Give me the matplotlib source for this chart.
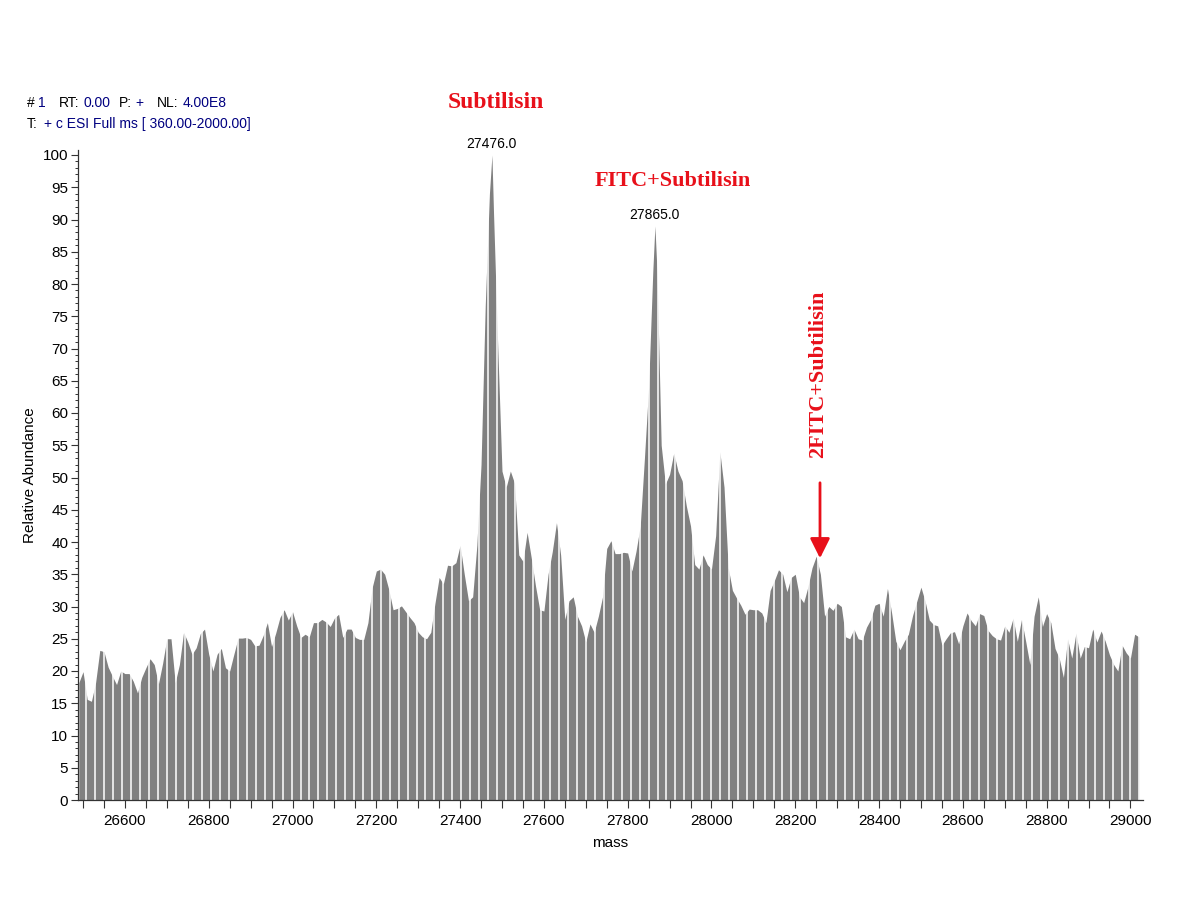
import numpy as np
import matplotlib
matplotlib.use("Agg")
import matplotlib.pyplot as plt
from matplotlib.ticker import MultipleLocator

plt.rcParams['font.family'] = ['Liberation Sans', 'DejaVu Sans']

# ---------------- data ----------------
mass_start, mass_step = 26490, 10
abundance = [
    18.2, 19.9, 15.6, 15.3, 18.2, 23.2, 23.0, 20.6, 19.2, 17.9,
    20.0, 19.6, 19.6, 18.4, 16.6, 19.0, 20.5, 21.9, 21.0, 18.0,
    21.2, 25.0, 25.0, 18.2, 21.0, 26.0, 24.5, 22.6, 23.6, 25.8,
    26.5, 22.6, 20.0, 22.6, 23.5, 20.5, 20.0, 22.6, 25.1, 25.1,
    25.2, 24.9, 23.9, 24.0, 25.5, 27.5, 23.8, 25.9, 28.3, 29.5,
    27.9, 29.2, 27.0, 25.2, 25.7, 25.3, 27.5, 27.5, 28.0, 27.6,
    26.9, 28.2, 28.8, 25.2, 26.5, 26.5, 25.2, 24.9, 24.9, 27.5,
    32.9, 35.5, 35.8, 35.0, 32.6, 29.5, 29.7, 30.1, 29.2, 28.3,
    27.5, 26.0, 25.3, 25.0, 26.0, 30.5, 34.5, 33.5, 36.4, 36.3,
    36.8, 39.5, 35.0, 30.9, 31.5, 39.5, 52.0, 76.6, 94.0, 90.6,
    70.0, 51.0, 48.5, 51.0, 49.1, 38.0, 37.0, 41.5, 37.5, 33.2,
    29.5, 29.3, 35.0, 38.5, 43.0, 38.0, 28.0, 30.9, 31.5, 28.5,
    27.0, 24.5, 27.3, 26.0, 28.5, 31.5, 39.0, 40.2, 38.2, 38.2,
    38.4, 38.3, 35.5, 38.6, 42.5, 53.0, 64.0, 82.0, 82.0, 55.0,
    49.0, 50.5, 53.8, 51.0, 49.5, 45.6, 42.5, 36.5, 35.8, 38.0,
    36.5, 35.8, 41.0, 54.0, 48.5, 36.0, 32.5, 31.3, 30.2, 28.8,
    29.6, 29.5, 29.5, 29.0, 27.5, 32.5, 34.0, 35.7, 35.0, 32.3,
    34.5, 35.0, 31.5, 30.6, 33.0, 36.0, 37.8, 35.0, 28.5, 30.0,
    29.4, 30.5, 30.0, 25.3, 25.0, 26.5, 25.0, 24.8, 26.8, 28.0,
    30.2, 30.5, 28.5, 32.8, 29.0, 24.6, 23.3, 24.6, 25.7, 28.6,
    30.8, 33.0, 30.8, 27.9, 27.2, 27.0, 24.0, 25.0, 25.9, 26.1,
    24.2, 27.0, 29.0, 27.8, 27.0, 28.9, 28.6, 26.3, 25.5, 25.0,
    24.8, 27.0, 26.0, 28.2, 24.6, 28.0, 24.6, 21.0, 28.5, 31.5,
    26.9, 28.9, 27.5, 23.5, 22.0, 19.0, 25.0, 22.0, 25.9, 22.0,
    23.8, 23.6, 26.5, 24.5, 26.2, 24.6, 22.5, 21.0, 20.0, 24.0,
    22.8, 22.0, 25.7, 25.3,
]
peak_mass = [27476.0, 27865.0]
peak_abund = [100.0, 89.0]
peak_labels = ["27476.0", "27865.0"]

header1 = [("#", "black", 27), ("1", "#000080", 38), ("RT:", "black", 59),
           ("0.00", "#000080", 83), ("P:", "black", 119), ("+", "#000080", 135),
           ("NL:", "black", 157), ("4.00E8", "#000080", 183)]
header2 = [("T:", "black", 27), ("+ c ESI Full ms [ 360.00-2000.00]", "#000080", 44)]

# ---------------- build ----------------
abundance = np.array(abundance)
mass = mass_start + mass_step * np.arange(len(abundance))
m_all = np.concatenate([mass, peak_mass])
a_all = np.concatenate([abundance, peak_abund])
order = np.argsort(m_all)
m_all, a_all = m_all[order], a_all[order]

W, H = 1200, 900
fig = plt.figure(figsize=(12, 9), dpi=100)
ax = fig.add_axes([78 / W, 1 - 800 / H, (1143 - 78) / W, 650 / H])

gray = '#808080'
ax.fill_between(m_all, 0, a_all, color=gray, lw=0, zorder=1)
# white stick separators of the profile rendering
ax.vlines(np.arange(26508, 29030, 21.3), 0, 101, colors='white', lw=1.1, zorder=2)

ax.set_xlim(26488, 29030)
ax.set_ylim(0, 100 * 650 / 645)

for s in ['top', 'right']:
    ax.spines[s].set_visible(False)
for s in ['left', 'bottom']:
    ax.spines[s].set_color('#333333')
    ax.spines[s].set_linewidth(0.9)
    ax.spines[s].set_zorder(5)

ax.xaxis.set_major_locator(MultipleLocator(200))
ax.xaxis.set_minor_locator(MultipleLocator(50))
ax.yaxis.set_major_locator(MultipleLocator(5))
ax.yaxis.set_minor_locator(MultipleLocator(1))
ax.tick_params(axis='x', which='both', direction='out', length=6, width=0.8,
               color='#333333', labelsize=11, pad=4)
ax.tick_params(axis='y', which='major', direction='out', length=5, width=0.8,
               color='#333333', labelsize=11, pad=2)
ax.tick_params(axis='y', which='minor', direction='out', length=2.5, width=0.7,
               color='#333333')

ax.set_xlabel("mass", fontsize=11, labelpad=6)
ax.set_ylabel("Relative Abundance", fontsize=11, labelpad=4)

for pm, pa, pl in zip(peak_mass, peak_abund, peak_labels):
    ax.annotate(pl, xy=(pm, pa), xytext=(0, 3), textcoords='offset points',
                ha='center', va='bottom', fontsize=10)

# header lines
for txt, col, px in header1:
    fig.text(px / W, 1 - 107 / H, txt, color=col, fontsize=10, ha='left', va='baseline')
for txt, col, px in header2:
    fig.text(px / W, 1 - 128 / H, txt, color=col, fontsize=10, ha='left', va='baseline')

red = '#E8101A'
serif = ['Liberation Serif', 'DejaVu Serif']
fig.text(496 / W, 1 - 103 / H, "Subtilisin", color=red, fontsize=17,
         fontweight='bold', family=serif, ha='center', va='center')
fig.text(673 / W, 1 - 181 / H, "FITC+Subtilisin", color=red, fontsize=16,
         fontweight='bold', family=serif, ha='center', va='center')
fig.text(818 / W, 1 - 374 / H, "2FITC+Subtilisin", color=red, fontsize=16,
         fontweight='bold', family=serif, ha='center', va='center', rotation=90)
fig.add_artist(matplotlib.patches.FancyArrowPatch(
    (820 / W, 1 - 480 / H), (820 / W, 1 - 561 / H), transform=fig.transFigure,
    arrowstyle='-|>,head_length=0.6,head_width=0.3', mutation_scale=20,
    color=red, lw=2))

fig.savefig("out.png", dpi=100, facecolor='white')
